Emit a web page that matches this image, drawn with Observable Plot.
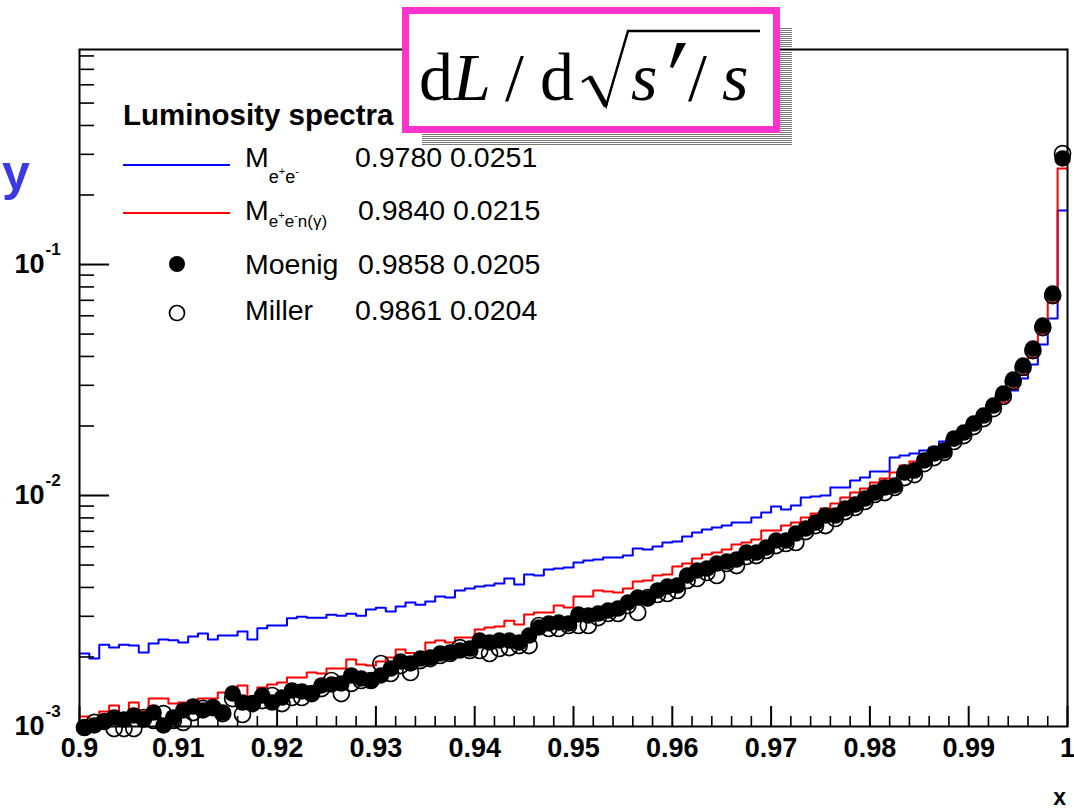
<!DOCTYPE html>
<html><head><meta charset="utf-8">
<script src="https://cdn.jsdelivr.net/npm/d3@7"></script>
<script src="https://cdn.jsdelivr.net/npm/@observablehq/plot@0.6"></script>
<style>
body{margin:0;background:#fff}
#wrap{position:relative;width:1074px;height:810px;overflow:hidden;background:#fff}
#ov{position:absolute;left:0;top:0}
</style>
</head><body><div id="wrap"></div>
<script>
// ---- data (100 bins of width 0.001 from 0.9 to 1.0) ----
const blue = [0.00207,0.00197,0.00226,0.00220,0.00226,0.00224,0.00209,0.00229,0.00238,0.00236,
0.00231,0.00245,0.00253,0.00238,0.00248,0.00248,0.00258,0.00238,0.00266,0.00274,
0.00274,0.00294,0.00299,0.00296,0.00296,0.00305,0.00302,0.00308,0.00302,0.00321,
0.00327,0.00315,0.00331,0.00344,0.00337,0.00348,0.00365,0.00362,0.00388,0.00396,
0.00404,0.00408,0.00416,0.00437,0.00412,0.00455,0.00451,0.00478,0.00483,0.00488,
0.00513,0.00523,0.00528,0.00539,0.00539,0.00550,0.00590,0.00584,0.00601,0.00626,
0.00632,0.00665,0.00692,0.00713,0.00727,0.00741,0.00764,0.00764,0.00803,0.00844,
0.00896,0.00870,0.00905,0.00980,0.00990,0.01000,0.01083,0.01083,0.01161,0.01196,
0.01270,0.01270,0.01460,0.01490,0.01520,0.01566,0.01614,0.01713,0.01855,0.01911,
0.02009,0.02176,0.02403,0.02656,0.02849,0.03209,0.03691,0.04505,0.05837,0.1713];
const red = [0.001105,0.001062,0.001161,0.001232,0.001116,0.001270,0.001161,0.001321,0.001321,0.001257,
0.001270,0.001295,0.001321,0.001321,0.001403,0.001389,0.001505,0.001335,0.001475,0.001520,
0.001551,0.001630,0.001630,0.001713,0.001696,0.001782,0.001782,0.001949,0.001855,0.001836,
0.001911,0.001989,0.002154,0.002080,0.002070,0.002309,0.002356,0.002309,0.002427,0.002427,
0.002630,0.002683,0.002710,0.002872,0.002764,0.003054,0.003116,0.003116,0.003340,0.003274,
0.003654,0.003654,0.003879,0.003841,0.003803,0.003957,0.004243,0.004286,0.004505,0.004550,
0.004927,0.005077,0.005336,0.005553,0.005665,0.005837,0.006135,0.006259,0.006448,0.007054,
0.007054,0.007414,0.007640,0.008030,0.008357,0.008784,0.009233,0.009803,0.01030,0.01072,
0.01139,0.01185,0.01257,0.01348,0.01403,0.01490,0.01566,0.01663,0.01764,0.01855,
0.01969,0.02154,0.02332,0.02527,0.02906,0.03340,0.03957,0.05027,0.06847,0.2603];
const moenig = [0.000990,0.001010,0.001051,0.001094,0.001072,0.001116,0.001072,0.001149,0.001010,0.001094,
0.001173,0.001220,0.001173,0.001208,0.001149,0.001389,0.001270,0.001257,0.001362,0.001270,
0.001335,0.001432,0.001418,0.001389,0.001505,0.001520,0.001536,0.001663,0.001614,0.001582,
0.001663,0.001782,0.001911,0.001874,0.001969,0.001989,0.002070,0.002091,0.002133,0.002176,
0.002356,0.002309,0.002356,0.002356,0.002309,0.002477,0.002683,0.002792,0.002820,0.002792,
0.003054,0.003023,0.003084,0.003178,0.003242,0.003442,0.003618,0.003582,0.003879,0.004037,
0.004077,0.004505,0.004734,0.004830,0.005077,0.005179,0.005283,0.005665,0.005665,0.005954,
0.006384,0.006384,0.006847,0.007196,0.007640,0.008192,0.008192,0.008784,0.009141,0.009706,
0.01030,0.01083,0.01105,0.01257,0.01283,0.01418,0.01520,0.01566,0.01764,0.01874,
0.02049,0.02219,0.02452,0.02764,0.03178,0.03654,0.04329,0.05444,0.07488,0.2878];
const miller = [0.000990,0.001041,0.001051,0.000980,0.000980,0.000980,0.001094,0.001062,0.001138,0.001062,
0.001041,0.001149,0.001197,0.001208,0.001138,0.001321,0.001127,0.001257,0.001295,0.001362,
0.001257,0.001335,0.001335,0.001389,0.001460,0.001582,0.001389,0.001536,0.001582,0.001582,
0.001874,0.001696,0.001836,0.001713,0.001930,0.001969,0.002029,0.002070,0.002197,0.002133,
0.002133,0.002070,0.002176,0.002197,0.002241,0.002241,0.002737,0.002656,0.002656,0.002737,
0.002737,0.002737,0.002963,0.003084,0.003084,0.003340,0.003116,0.003618,0.003728,0.003765,
0.003879,0.004286,0.004372,0.004641,0.004505,0.005077,0.004976,0.005444,0.005498,0.005779,
0.006074,0.006197,0.006259,0.006984,0.007414,0.007414,0.007951,0.008525,0.008872,0.009423,
0.01010,0.01030,0.01083,0.01196,0.01232,0.01375,0.01460,0.01536,0.01713,0.01818,
0.01989,0.02154,0.02379,0.02683,0.03116,0.03582,0.04243,0.05336,0.07341,0.3023];

const xMajor = [0.9,0.91,0.92,0.93,0.94,0.95,0.96,0.97,0.98,0.99,1.0];
const xTickLabels = ["0.9","0.91","0.92","0.93","0.94","0.95","0.96","0.97","0.98","0.99","1"];
const yMajor = [0.001,0.01,0.1];
const yExpLabels = ["-3","-2","-1"];
const legendNames = ["Moenig","Miller"];

// ---- derived tables ----
const binW = 0.001, xLo = 0.9, xHi = 1.0;
const binLow = d3.range(blue.length).map(i => xLo + i*binW);
const hist = arr => binLow.map((x,i)=>({x, v: arr[i]})).concat([{x: xHi, v: arr[arr.length-1]}]);
const pts = arr => binLow.map((x,i)=>({x: x + binW/2, v: arr[i]}));
const xMinor = d3.range(0, 51).map(i => xLo + i*0.002).filter(v => Math.abs(Math.round(v*100) - v*100) > 1e-6);
const yMinor = [];
for (const p of yMajor) for (let k=2;k<=9;k++) if (k*p < 0.853) yMinor.push(k*p);

const W=1074,H=810,mL=79,mR=7,mT=49,mB=84;
const innerH=H-mT-mB, innerW=W-mL-mR;
const FONT = "'Liberation Sans', Arial, Helvetica, sans-serif";

const chart = Plot.plot({
  width: W, height: H, marginLeft: mL, marginRight: mR, marginTop: mT, marginBottom: mB,
  style: {fontFamily: FONT, background: "white", overflow: "visible"},
  x: {domain: [xLo, xHi], axis: null},
  y: {type: "log", domain: [1e-3, 0.853], axis: null},
  marks: [
    Plot.line(hist(blue), {x:"x", y:"v", curve:"step-after", stroke:"#0000ff", strokeWidth:2}),
    Plot.line(hist(red), {x:"x", y:"v", curve:"step-after", stroke:"#ff0000", strokeWidth:2}),
    Plot.dot(pts(miller), {x:"x", y:"v", r:8, stroke:"black", strokeWidth:1.7, fill:"none"}),
    Plot.dot(pts(moenig), {x:"x", y:"v", r:8.3, fill:"black", stroke:"none"}),
    Plot.frame({stroke:"black", strokeWidth:2}),
    Plot.tickX(xMajor, {x:d=>d, insetTop: innerH-20, stroke:"black", strokeWidth:2}),
    Plot.tickX(xMinor, {x:d=>d, insetTop: innerH-10, stroke:"black", strokeWidth:1.6}),
    Plot.tickY(yMajor, {y:d=>d, insetRight: innerW-30, stroke:"black", strokeWidth:2}),
    Plot.tickY(yMinor, {y:d=>d, insetRight: innerW-15, stroke:"black", strokeWidth:1.6}),
    Plot.text(xMajor, {x:d=>d, frameAnchor:"bottom", dy:22, text:(d,i)=>xTickLabels[i], fontSize:27, fontWeight:"bold", lineAnchor:"middle", fill:"black"}),
    Plot.text(yMajor, {y:d=>d, frameAnchor:"left", dx:-35, textAnchor:"end", text:()=>"10", fontSize:27, fontWeight:"bold", lineAnchor:"middle", fill:"black"}),
    Plot.text(yMajor, {y:d=>d, frameAnchor:"left", dx:-34, dy:-15, textAnchor:"start", text:(d,i)=>yExpLabels[i], fontSize:17, fontWeight:"bold", lineAnchor:"middle", fill:"black"})
  ]
});
const wrap = document.getElementById("wrap");
wrap.appendChild(chart);

// ---- annotations: title box, legend, axis titles ----
const ov = `
<svg id="ov" width="1074" height="810" xmlns="http://www.w3.org/2000/svg" font-family="${FONT.replace(/'/g,'')}">
 <defs><pattern id="hatch" width="4" height="2" patternUnits="userSpaceOnUse"><rect width="4" height="1" fill="#7a7a7a"/></pattern></defs>
 <rect x="422" y="27" width="370" height="118" fill="url(#hatch)"/>
 <rect x="405.5" y="10.5" width="371" height="119" fill="white" stroke="#ff33cc" stroke-width="7"/>
 <g font-family="Liberation Serif, 'Times New Roman', serif" font-size="68" fill="black">
  <text x="419" y="100">d<tspan font-style="italic">L</tspan></text>
  <text x="505" y="100">/</text>
  <text x="540" y="100">d</text>
  <text x="631" y="100" font-style="italic">s</text>
  <text x="688" y="100">/</text>
  <text x="722" y="100" font-style="italic">s</text>
 </g>
 <path d="M582,82 L590,77 L606,106 L628,31 L760,31" fill="none" stroke="black" stroke-width="2.5" stroke-linejoin="miter"/>
 <path d="M590,77 L606,106" stroke="black" stroke-width="5"/>
 <path d="M677,43 L686,43 L673,68 L670,67 Z" fill="black"/>

 <text x="123" y="125" font-size="29.5" font-weight="bold">Luminosity spectra</text>
 <line x1="123" x2="230" y1="165" y2="165" stroke="#0000ff" stroke-width="2"/>
 <line x1="123" x2="230" y1="213" y2="213" stroke="#ff0000" stroke-width="2"/>
 <circle cx="177" cy="264" r="8" fill="black"/>
 <circle cx="177" cy="313" r="7.5" fill="none" stroke="black" stroke-width="1.7"/>
 <g font-size="28.5" fill="black">
  <text x="245" y="167">M<tspan font-size="18" dy="16">e</tspan><tspan font-size="11" dy="-8">+</tspan><tspan font-size="18" dy="8">e</tspan><tspan font-size="11" dy="-8">-</tspan></text>
  <text x="355" y="167">0.9780 0.0251</text>
  <text x="245" y="220">M<tspan font-size="17" dy="7">e</tspan><tspan font-size="11" dy="-8">+</tspan><tspan font-size="17" dy="8">e</tspan><tspan font-size="11" dy="-8">-</tspan><tspan font-size="17" dy="8">n(γ)</tspan></text>
  <text x="358" y="220">0.9840 0.0215</text>
  <text x="245" y="274">${legendNames[0]}</text>
  <text x="358" y="274">0.9858 0.0205</text>
  <text x="245" y="320">${legendNames[1]}</text>
  <text x="355" y="320">0.9861 0.0204</text>
 </g>
 <text x="2" y="190" font-size="50" font-weight="bold" fill="#3a3ae0">y</text>
 <text x="1066" y="805" font-size="23" font-weight="bold" text-anchor="end">x</text>
</svg>`;
wrap.insertAdjacentHTML("beforeend", ov);
</script></body></html>
